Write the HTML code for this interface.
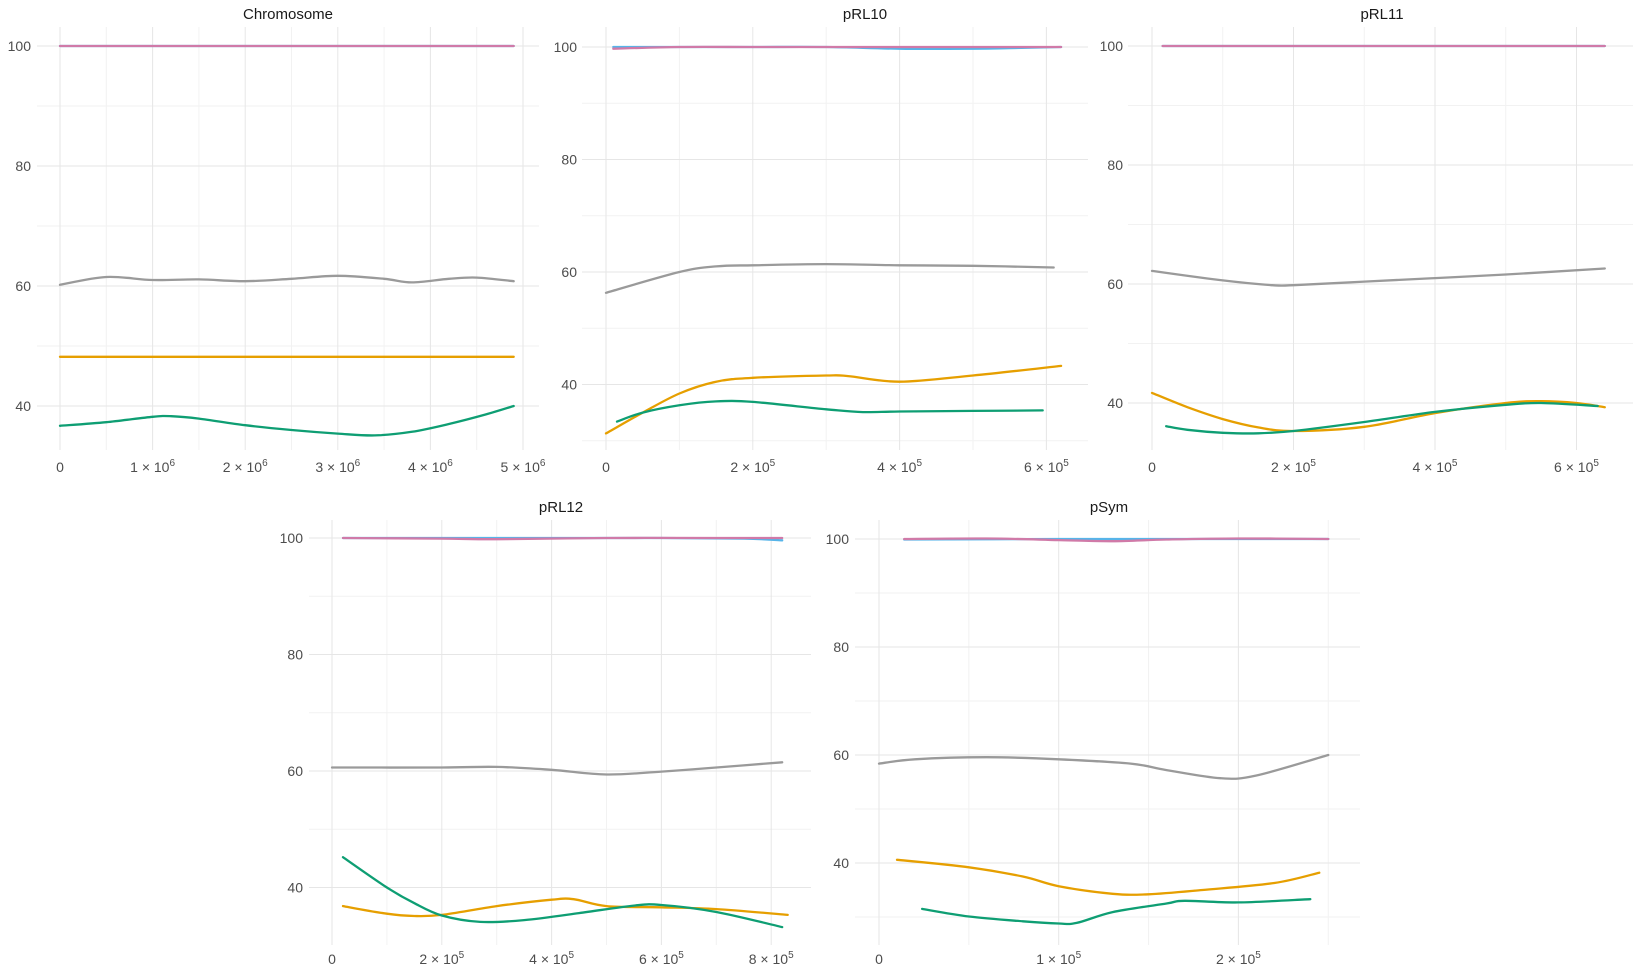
<!DOCTYPE html>
<html><head><meta charset="utf-8"><style>
html,body{margin:0;padding:0;background:#fff;}
svg{display:block;font-family:"Liberation Sans",sans-serif;}
</style></head><body>
<svg id="chart" width="1639" height="977" viewBox="0 0 1639 977"></svg>
<script>
// ---- data (x in panel units, y in %) ----
const chromX = [0,0.5,1,1.5,2,2.5,3,3.5,3.8,4.2,4.5,4.9];
const chromGrey = [60.2,61.5,61,61.1,60.8,61.2,61.7,61.2,60.6,61.2,61.4,60.8];
const chromOrangeX = [0,4.9];
const chromOrange = [48.2,48.2];
const chromGreenX = [0,0.5,1,1.2,1.5,2,2.5,3,3.4,3.8,4.2,4.6,4.9];
const chromGreen = [36.7,37.3,38.2,38.3,37.9,36.8,36,35.4,35.1,35.7,37,38.6,40];
const chromPinkX = [0,4.9];
const chromPink = [100,100];
const chromBlueX = [0,4.9];
const chromBlue = [100,100];

const p10GreyX = [0,1,1.5,2,3,4,5,6.1];
const p10Grey = [56.3,60,61,61.2,61.4,61.2,61.1,60.8];
const p10OrangeX = [0,0.5,1,1.5,2,3,3.3,4,5,6.2];
const p10Orange = [31.3,35,38.4,40.5,41.2,41.6,41.5,40.5,41.6,43.3];
const p10GreenX = [0.15,0.5,1,1.5,2,3,3.5,4,5,5.95];
const p10Green = [33.4,35,36.3,37,36.9,35.6,35.1,35.2,35.3,35.4];
const p10BlueX = [0.1,1,2,3,4,5,5.5,6.2];
const p10Blue = [100,100,100,100,99.7,99.7,99.8,100];
const p10PinkX = [0.1,1,2,3,4,5,6.2];
const p10Pink = [99.7,100,100,100,100,100,100];

const p11GreyX = [0,1,1.7,2,3,4,5,6.4];
const p11Grey = [62.2,60.6,59.8,59.8,60.4,61,61.6,62.6];
const p11OrangeX = [0,0.5,1,1.5,2,3,4,5,5.5,6,6.4];
const p11Orange = [41.7,39.3,37.3,35.9,35.3,36,38.3,40,40.3,40,39.3];
const p11GreenX = [0.2,0.5,1,1.5,2,3,4,5,5.5,6.3];
const p11Green = [36.1,35.5,35,34.9,35.3,36.8,38.5,39.7,40,39.5];
const p11BlueX = [0.15,6.4];
const p11Blue = [100,100];
const p11PinkX = [0.15,6.4];
const p11Pink = [100,100];

const p12GreyX = [0,2,3,4,5,6,7,8.2];
const p12Grey = [60.6,60.6,60.7,60.2,59.4,59.9,60.6,61.5];
const p12OrangeX = [0.2,1,1.5,2,3,4,4.4,5,6,7,8.3];
const p12Orange = [36.8,35.5,35.1,35.3,36.8,37.9,38,36.8,36.6,36.3,35.3];
const p12GreenX = [0.2,1,1.5,2,2.7,3.5,4.5,5.5,6,7,8.2];
const p12Green = [45.2,40,37.3,35.2,34.1,34.4,35.6,36.9,37,35.8,33.2];
const p12BlueX = [0.2,3,6,7.5,8.2];
const p12Blue = [100,100,100,99.9,99.6];
const p12PinkX = [0.2,2,3,5,7,8.2];
const p12Pink = [100,99.9,99.8,100,100,100];

const psGreyX = [0,2,6,10,14,16,19,21,25];
const psGrey = [58.4,59.2,59.6,59.2,58.4,57.2,55.7,56.2,60];
const psOrangeX = [1,5,8,10,13,15,18,22,24.5];
const psOrange = [40.6,39.2,37.5,35.7,34.3,34.2,35,36.3,38.2];
const psGreenX = [2.4,5,8,10,11,13,16,17,20,24];
const psGreen = [31.5,30.1,29.2,28.8,28.9,30.9,32.5,33,32.7,33.3];
const psBlueX = [1.4,10,17,25];
const psBlue = [99.9,100,100,100];
const psPinkX = [1.4,6,10,13,16,20,25];
const psPink = [100,100.1,99.8,99.6,99.9,100.1,100];

const yTicks = [40,60,80,100];
const yMinor = [30,50,70,90];
const chromTickVals = [0,1,2,3,4,5];
const chromTickLabels = ["0","1","2","3","4","5"];
const p10TickVals = [0,2,4,6];
const p11TickVals = [0,2,4,6];
const p12TickVals = [0,2,4,6,8];
const psTickVals = [0,10,20];
const psTickLabels = ["0","1","2"];

const COLORS = {grey:"#9a9a9a",orange:"#E69F00",green:"#0E9E73",blue:"#56B4E9",pink:"#D07AA8"};

const panels = [
 {name:"Chromosome",l:37,r:539,t:27,b:450,x0:60,xs:92.6,y100:46,ys:6.0,title:"Chromosome",tx:288,ty:19,
  ticks:chromTickVals,labels:chromTickLabels,exp:"6",minor:[0.5,1.5,2.5,3.5,4.5],lab:31,xly:472,
  series:[["blue",chromBlueX,chromBlue],["pink",chromPinkX,chromPink],["grey",chromX,chromGrey],["orange",chromOrangeX,chromOrange],["green",chromGreenX,chromGreen]]},
 {name:"pRL10",l:582,r:1088,t:27,b:450,x0:606,xs:73.4,y100:47,ys:5.625,title:"pRL10",tx:865,ty:19,
  ticks:p10TickVals,labels:null,exp:"5",minor:[1,3,5],lab:577,xly:472,
  series:[["blue",p10BlueX,p10Blue],["pink",p10PinkX,p10Pink],["grey",p10GreyX,p10Grey],["orange",p10OrangeX,p10Orange],["green",p10GreenX,p10Green]]},
 {name:"pRL11",l:1128,r:1633,t:27,b:450,x0:1152,xs:70.75,y100:46,ys:5.95,title:"pRL11",tx:1382,ty:19,
  ticks:p11TickVals,labels:null,exp:"5",minor:[1,3,5],lab:1123,xly:472,
  series:[["blue",p11BlueX,p11Blue],["pink",p11PinkX,p11Pink],["grey",p11GreyX,p11Grey],["orange",p11OrangeX,p11Orange],["green",p11GreenX,p11Green]]},
 {name:"pRL12",l:309,r:811,t:520,b:945,x0:332,xs:54.9,y100:538,ys:5.825,title:"pRL12",tx:561,ty:512,
  ticks:p12TickVals,labels:null,exp:"5",minor:[1,3,5,7],lab:303,xly:964,
  series:[["blue",p12BlueX,p12Blue],["pink",p12PinkX,p12Pink],["grey",p12GreyX,p12Grey],["orange",p12OrangeX,p12Orange],["green",p12GreenX,p12Green]]},
 {name:"pSym",l:855,r:1360,t:520,b:945,x0:879,xs:17.97,y100:539,ys:5.4,title:"pSym",tx:1109,ty:512,
  ticks:psTickVals,labels:psTickLabels,exp:"5",minor:[5,15,25],lab:849,xly:964,
  series:[["blue",psBlueX,psBlue],["pink",psPinkX,psPink],["grey",psGreyX,psGrey],["orange",psOrangeX,psOrange],["green",psGreenX,psGreen]]}
];

const NS="http://www.w3.org/2000/svg";
const svg=document.getElementById('chart');
function mk(tag,attrs,parent){const e=document.createElementNS(NS,tag);for(const k in attrs)e.setAttribute(k,attrs[k]);(parent||svg).appendChild(e);return e;}
function smooth(pts){
  if(pts.length<3)return "M"+pts.map(p=>p[0].toFixed(1)+","+p[1].toFixed(1)).join("L");
  let d="M"+pts[0][0].toFixed(1)+","+pts[0][1].toFixed(1);
  for(let i=0;i<pts.length-1;i++){
    const p0=pts[i-1]||pts[i],p1=pts[i],p2=pts[i+1],p3=pts[i+2]||p2;
    const c1=[p1[0]+(p2[0]-p0[0])/6,p1[1]+(p2[1]-p0[1])/6];
    const c2=[p2[0]-(p3[0]-p1[0])/6,p2[1]-(p3[1]-p1[1])/6];
    d+="C"+c1[0].toFixed(1)+","+c1[1].toFixed(1)+" "+c2[0].toFixed(1)+","+c2[1].toFixed(1)+" "+p2[0].toFixed(1)+","+p2[1].toFixed(1);
  }
  return d;
}

panels.forEach((P,pi)=>{
  const g=mk('g',{});
  
  
  const X=v=>P.x0+v*P.xs;
  const Y=v=>P.y100+(100-v)*P.ys;
  const cid='clip'+pi;
  const cp=mk('clipPath',{id:cid},g);mk('rect',{x:P.l,y:P.t,width:P.r-P.l,height:P.b-P.t},cp);
  const grid=mk('g',{'clip-path':'url(#'+cid+')'},g);
  
  
  yMinor.forEach(v=>mk('line',{x1:P.l,x2:P.r,y1:Y(v),y2:Y(v),stroke:'#f2f2f2','stroke-width':1},grid));
  P.minor.forEach(v=>mk('line',{x1:X(v),x2:X(v),y1:P.t,y2:P.b,stroke:'#f2f2f2','stroke-width':1},grid));
  yTicks.forEach(v=>mk('line',{x1:P.l,x2:P.r,y1:Y(v),y2:Y(v),stroke:'#e6e6e6','stroke-width':1},grid));
  P.ticks.forEach(v=>mk('line',{x1:X(v),x2:X(v),y1:P.t,y2:P.b,stroke:'#e6e6e6','stroke-width':1},grid));
  yTicks.forEach(v=>{
    const t=mk('text',{x:P.lab,y:Y(v)+5,'text-anchor':'end','font-size':14,fill:'#4d4d4d'},g);
    t.textContent=v;
    
    
  });
  P.ticks.forEach((v,i)=>{
    const lab=P.labels?P.labels[i]:String(v);
    const t=mk('text',{x:X(v),y:P.xly,'text-anchor':'middle','font-size':14,fill:'#4d4d4d'},g);
    
    
    if(lab==="0"){t.textContent="0";}
    else{
      t.textContent=lab+" \u00d7 10";
      const s=mk('tspan',{dy:-6,'font-size':10},t);s.textContent=P.exp;
    }
  });
  const tt=mk('text',{x:P.tx,y:P.ty,'text-anchor':'middle','font-size':15,fill:'#1a1a1a'},g);
  tt.textContent=P.title;
  
  
  P.series.forEach(([c,xs,ys])=>{
    const pts=xs.map((x,i)=>[X(x),Y(ys[i])]);
    const p=mk('path',{d:smooth(pts),fill:'none',stroke:COLORS[c],'stroke-width':2.3,'stroke-linecap':'round'},g);
    
    
  });
});
</script>
</body></html>
